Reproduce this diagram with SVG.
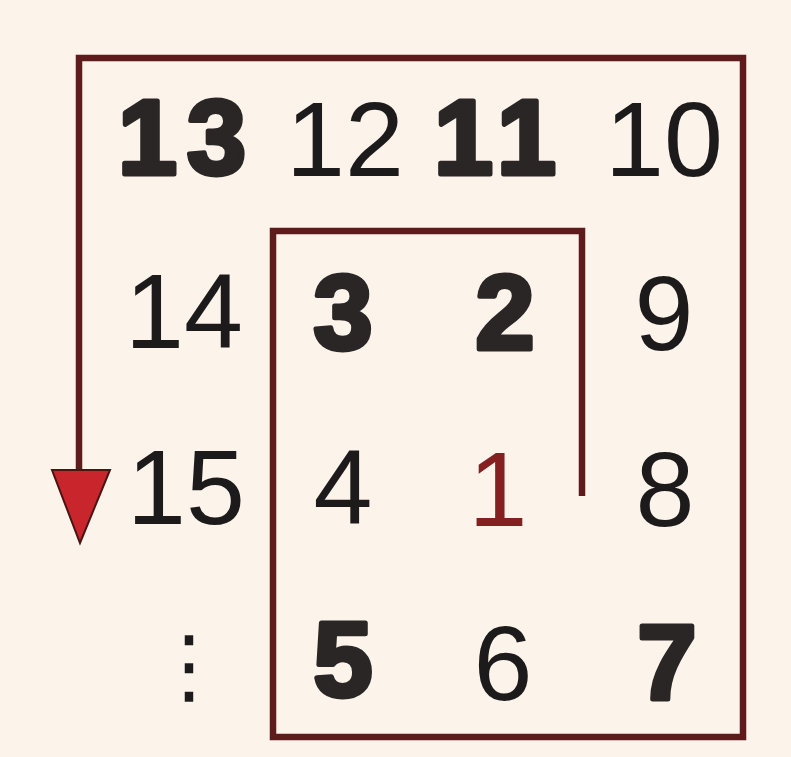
<svg xmlns="http://www.w3.org/2000/svg" width="791" height="757" viewBox="0 0 791 757">
<style>
.n{font-family:"Liberation Sans",Arial,sans-serif;font-size:106px;text-anchor:middle;fill:#1c1a1a}
.b{font-weight:bold;stroke:#2a2626;stroke-width:5;stroke-linejoin:round;fill:#2a2626}
.sp{letter-spacing:10px}
.r{fill:#84201f}
.ln{fill:none;stroke:#5e1b1b;stroke-width:6.5;stroke-linejoin:miter;stroke-linecap:butt}
</style>
<rect width="791" height="757" fill="#fcf3ea"/>
<g id="connectors">
<path class="ln" d="M582,496 V231 H273 V737 H743 V58 H79 V470"/>
<polygon points="52,470 110,470 80,543" fill="#c8262c" stroke="#4a1414" stroke-width="2"/>
</g>
<g id="n13"><text class="n b sp" x="187" y="174">13</text></g>
<g id="n12"><text class="n" x="345" y="176">12</text></g>
<g id="n11"><text class="n b sp" x="500" y="174">11</text></g>
<g id="n10"><text class="n" x="664" y="176">10</text></g>
<g id="n14"><text class="n" x="184" y="348">14</text></g>
<g id="n3"><text class="n b" x="343" y="349">3</text></g>
<g id="n2"><text class="n b" x="505" y="349">2</text></g>
<g id="n9"><text class="n" x="664" y="350">9</text></g>
<g id="n15"><text class="n" x="186" y="524">15</text></g>
<g id="n4"><text class="n" x="343" y="524">4</text></g>
<g id="n1"><text class="n r" x="498" y="526">1</text></g>
<g id="n8"><text class="n" x="665" y="526">8</text></g>
<g id="ndots"><text class="n" x="189" y="694" style="font-family:'DejaVu Sans',sans-serif;font-size:82px">⋮</text></g>
<g id="n5"><text class="n b" x="343" y="696">5</text></g>
<g id="n6"><text class="n" x="503" y="700">6</text></g>
<g id="n7"><text class="n b" x="667" y="699">7</text></g>
</svg>
